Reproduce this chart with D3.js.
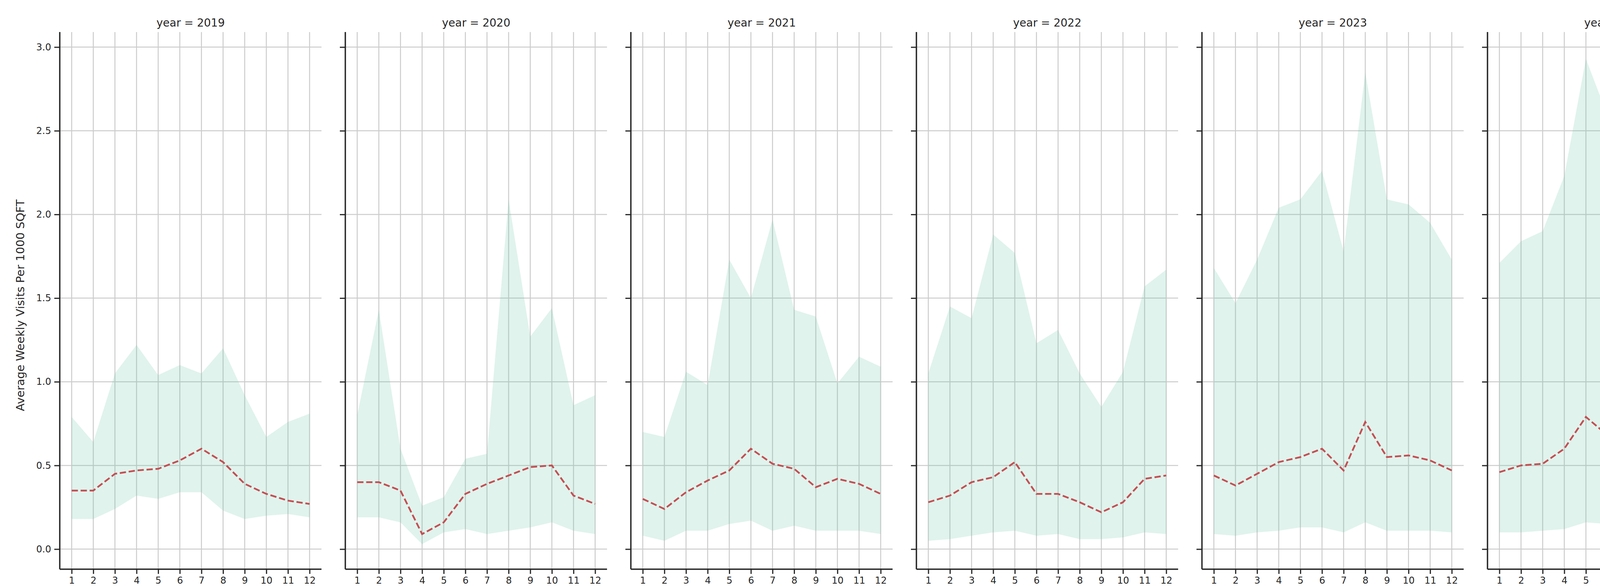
<!DOCTYPE html>
<html><head><meta charset="utf-8">
<script src="https://cdn.jsdelivr.net/npm/d3@7"></script>
<style>body{margin:0;background:#fff}svg{font-family:"DejaVu Sans",sans-serif}</style>
</head><body>
<svg id="c" width="5250" height="1500"></svg>
<script>
const years = [2019,2020,2021,2022,2023,2024,2025];
const months = [1,2,3,4,5,6,7,8,9,10,11,12];
const yTicks = [0,0.5,1.0,1.5,2.0,2.5,3.0];
const upper = [
 [0.79,0.64,1.05,1.22,1.04,1.10,1.05,1.20,0.92,0.67,0.76,0.81],
 [0.80,1.43,0.60,0.26,0.31,0.54,0.57,2.09,1.27,1.44,0.86,0.92],
 [0.70,0.67,1.06,0.98,1.73,1.50,1.97,1.43,1.39,0.99,1.15,1.09],
 [1.05,1.45,1.38,1.88,1.77,1.23,1.31,1.05,0.85,1.06,1.57,1.67],
 [1.68,1.47,1.73,2.04,2.09,2.26,1.78,2.85,2.09,2.06,1.95,1.73],
 [1.71,1.84,1.90,2.23,2.93,2.59,2.18,2.45,2.14,2.52,2.00,2.35],
 [1.96,1.68,1.69]
];
const lower = [
 [0.18,0.18,0.24,0.32,0.30,0.34,0.34,0.23,0.18,0.20,0.21,0.19],
 [0.19,0.19,0.16,0.03,0.10,0.12,0.09,0.11,0.13,0.16,0.11,0.09],
 [0.08,0.05,0.11,0.11,0.15,0.17,0.11,0.14,0.11,0.11,0.11,0.09],
 [0.05,0.06,0.08,0.10,0.11,0.08,0.09,0.06,0.06,0.07,0.10,0.09],
 [0.09,0.08,0.10,0.11,0.13,0.13,0.10,0.16,0.11,0.11,0.11,0.10],
 [0.10,0.10,0.11,0.12,0.16,0.15,0.12,0.14,0.12,0.14,0.11,0.13],
 [0.11,0.10,0.10]
];
const median = [
 [0.35,0.35,0.45,0.47,0.48,0.53,0.60,0.52,0.39,0.33,0.29,0.27],
 [0.40,0.40,0.35,0.09,0.16,0.33,0.39,0.44,0.49,0.50,0.32,0.27],
 [0.30,0.24,0.34,0.41,0.47,0.60,0.51,0.48,0.37,0.42,0.39,0.33],
 [0.28,0.32,0.40,0.43,0.52,0.33,0.33,0.28,0.22,0.28,0.42,0.44],
 [0.44,0.38,0.45,0.52,0.55,0.60,0.47,0.76,0.55,0.56,0.53,0.47],
 [0.46,0.50,0.51,0.60,0.79,0.68,0.59,0.66,0.58,0.68,0.55,0.64],
 [0.54,0.46,0.46]
];

const svg = d3.select("#c");
const pTop = 82, pBottom = 1457, left0 = 153, pw = 670, gap = 61;
const y = d3.scaleLinear().domain([-0.12,3.09]).range([pBottom, pTop]);
const ink = "#262626";

years.forEach((yr, i) => {
  const x0 = left0 + i*(pw+gap);
  const x = d3.scaleLinear().domain([0.45,12.55]).range([x0, x0+pw]);
  const g = svg.append("g");
  g.selectAll(".hg").data(yTicks).join("line")
    .attr("x1", x0).attr("x2", x0+pw).attr("y1", d=>y(d)).attr("y2", d=>y(d))
    .attr("stroke","#cccccc").attr("stroke-width",2.5);
  g.selectAll(".vg").data(months).join("line")
    .attr("x1", d=>x(d)).attr("x2", d=>x(d)).attr("y1", pTop).attr("y2", pBottom)
    .attr("stroke","#cccccc").attr("stroke-width",2.5);
  const data = upper[i].map((u,k)=>({m:months[k],u,l:lower[i][k],md:median[i][k]}));
  g.append("path").datum(data)
    .attr("d", d3.area().x(d=>x(d.m)).y0(d=>y(d.l)).y1(d=>y(d.u)))
    .attr("fill","#66c2a5").attr("fill-opacity",0.2);
  g.append("path").datum(data)
    .attr("d", d3.line().x(d=>x(d.m)).y(d=>y(d.md)))
    .attr("fill","none").attr("stroke","#c44e52").attr("stroke-width",4.5)
    .attr("stroke-dasharray","16,7");
  const xa = g.append("g").attr("transform",`translate(0,${pBottom})`)
    .call(d3.axisBottom(x).tickValues(months).tickSize(12).tickPadding(8).tickFormat(d3.format("d")));
  const ya = g.append("g").attr("transform",`translate(${x0},0)`)
    .call(d3.axisLeft(y).tickValues(yTicks).tickSize(14).tickPadding(8)
      .tickFormat(i===0 ? d3.format(".1f") : ""));
  [xa,ya].forEach(a=>{
    a.select(".domain").attr("stroke",ink).attr("stroke-width",3.5)
      .attr("d", a===xa ? `M${x0},0H${x0+pw}` : `M0,${pTop}V${pBottom}`);
    a.selectAll(".tick line").attr("stroke",ink).attr("stroke-width",3);
    a.selectAll(".tick text").attr("fill",ink).attr("font-size",24).attr("font-family","DejaVu Sans");
  });
  g.append("text").attr("x", x0+pw/2).attr("y", 1548).attr("text-anchor","middle")
    .attr("font-size",29).attr("fill",ink).text("Month");
  g.append("text").attr("x", x0+pw/2).attr("y", 68).attr("text-anchor","middle")
    .attr("font-size",28).attr("fill",ink).text(`year = ${yr}`);
});
svg.append("text").attr("transform",`translate(62,${(pTop+pBottom)/2+12}) rotate(-90)`)
  .attr("text-anchor","middle").attr("font-size",29).attr("fill",ink)
  .text("Average Weekly Visits Per 1000 SQFT");

const lx = 4754, ly = 128;
const lg = svg.append("g");
lg.append("rect").attr("x",lx).attr("y",ly).attr("width",459).attr("height",115).attr("rx",6)
  .attr("fill","#fff").attr("fill-opacity",0.8).attr("stroke","#cccccc").attr("stroke-width",2);
lg.append("line").attr("x1",lx+14).attr("x2",lx+80).attr("y1",ly+30).attr("y2",ly+30)
  .attr("stroke","#c44e52").attr("stroke-width",4.5).attr("stroke-dasharray","16,7");
lg.append("rect").attr("x",lx+14).attr("y",ly+64).attr("width",66).attr("height",24)
  .attr("fill","#66c2a5").attr("fill-opacity",0.2);
lg.append("text").attr("x",lx+100).attr("y",ly+40).attr("font-size",28).attr("fill",ink).text("Median");
lg.append("text").attr("x",lx+100).attr("y",ly+86).attr("font-size",28).attr("fill",ink).text("25th-75th Percentile");
</script>
</body></html>
